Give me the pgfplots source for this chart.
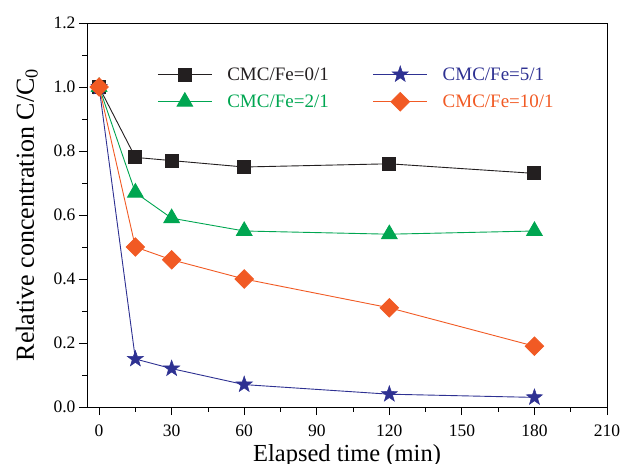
\documentclass[border=0pt]{standalone}
\usepackage{fontspec}
\setmainfont{Liberation Serif}
\usepackage{pgfplots}
\pgfplotsset{compat=1.18}
\definecolor{cblack}{HTML}{231F20}
\definecolor{cgreen}{HTML}{00A651}
\definecolor{cblue}{HTML}{2E3192}
\definecolor{cred}{HTML}{F15A24}
\pgfdeclareplotmark{fstar}{%
  \pgfpathmoveto{\pgfpointpolar{90}{\pgfplotmarksize}}%
  \pgfpathlineto{\pgfpointpolar{126}{0.4\pgfplotmarksize}}%
  \pgfpathlineto{\pgfpointpolar{162}{\pgfplotmarksize}}%
  \pgfpathlineto{\pgfpointpolar{198}{0.4\pgfplotmarksize}}%
  \pgfpathlineto{\pgfpointpolar{234}{\pgfplotmarksize}}%
  \pgfpathlineto{\pgfpointpolar{270}{0.4\pgfplotmarksize}}%
  \pgfpathlineto{\pgfpointpolar{306}{\pgfplotmarksize}}%
  \pgfpathlineto{\pgfpointpolar{342}{0.4\pgfplotmarksize}}%
  \pgfpathlineto{\pgfpointpolar{18}{\pgfplotmarksize}}%
  \pgfpathlineto{\pgfpointpolar{54}{0.4\pgfplotmarksize}}%
  \pgfpathclose
  \pgfusepathqfillstroke}
\begin{document}
\begin{tikzpicture}
\begin{axis}[
  scale only axis,
  width=520bp, height=384bp,
  xmin=-5, xmax=210, ymin=0, ymax=1.2,
  xtick={0,30,...,210}, minor x tick num=1,
  ytick={0,0.2,...,1.2}, minor y tick num=1,
  tick align=outside, xtick pos=bottom, ytick pos=left,
  major tick length=8bp, minor tick length=4.5bp,
  tick style={black, line width=0.8bp},
  axis line style={line width=0.8bp},
  /pgf/number format/assume math mode=true,
  /pgf/number format/.cd, fixed, fixed zerofill, precision=1, /pgfplots/.cd,
  xticklabel style={/pgf/number format/precision=0, /pgf/number format/fixed zerofill=false, yshift=-6bp},
  tick label style={font=\fontsize{17.5bp}{19bp}\selectfont},
  xlabel={Elapsed time (min)},
  ylabel={Relative concentration C/C\textsubscript{0}},
  xlabel style={font=\fontsize{24.5bp}{26bp}\selectfont, yshift=-1bp},
  ylabel style={font=\fontsize{26bp}{28bp}\selectfont, yshift=9bp},
  legend columns=2, transpose legend,
  legend style={draw=none, fill=none, at={(0.135,0.89)}, anchor=north west,
    font=\fontsize{19bp}{21bp}\selectfont, row sep=9bp, inner sep=0pt,
    /tikz/every odd column/.append style={column sep=13bp},
    /tikz/every even column/.append style={column sep=42bp}},
  legend cell align=left,
  legend image code/.code={\draw[mark repeat=2, mark phase=2] plot coordinates {(0bp,0bp) (27bp,0bp) (54bp,0bp)};},
  every axis plot/.append style={line width=0.9bp},
]
\addplot[cblack, mark=square*, mark size=6.5bp, mark options={fill=cblack}] coordinates {(0,1.0) (15,0.78) (30,0.77) (60,0.75) (120,0.76) (180,0.73)};
\addlegendentry{\textcolor{cblack}{CMC/Fe=0/1}}
\addplot[cgreen, mark=triangle*, mark size=9bp, mark options={fill=cgreen}] coordinates {(0,1.0) (15,0.67) (30,0.59) (60,0.55) (120,0.54) (180,0.55)};
\addlegendentry{\textcolor{cgreen}{CMC/Fe=2/1}}
\addplot[cblue, mark=fstar, mark size=8.5bp, mark options={fill=cblue, line width=0.5bp}] coordinates {(0,1.0) (15,0.15) (30,0.12) (60,0.07) (120,0.04) (180,0.03)};
\addlegendentry{\textcolor{cblue}{CMC/Fe=5/1}}
\addplot[cred, mark=square*, mark size=6.5bp, mark options={fill=cred, rotate=45}] coordinates {(0,1.0) (15,0.50) (30,0.46) (60,0.40) (120,0.31) (180,0.19)};
\addlegendentry{\textcolor{cred}{CMC/Fe=10/1}}
\end{axis}
\pgfresetboundingbox
\path ([shift={(-87bp,-57bp)}]current axis.south west) rectangle ([shift={(14bp,23bp)}]current axis.north east);
\end{tikzpicture}
\end{document}
